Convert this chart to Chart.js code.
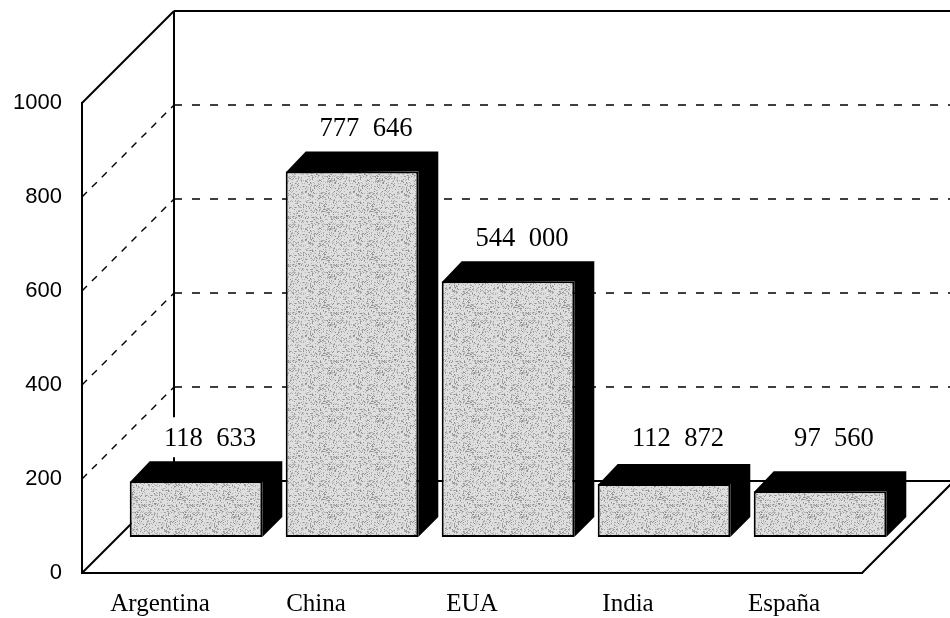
<!DOCTYPE html>
<html>
<head>
<meta charset="utf-8">
<title>Producción</title>
<script src="https://cdn.jsdelivr.net/npm/chart.js@4/dist/chart.umd.min.js"></script>
<style>
  html, body { margin: 0; padding: 0; background: #fff; }
  canvas { display: block; }
</style>
</head>
<body>
<canvas id="chart" width="950" height="618"></canvas>
<script>
// Countries and their output (units); the value axis is read in thousands.
const categories = ['Argentina', 'China', 'EUA', 'India', 'España'];
const production = [118633, 777646, 544000, 112872, 97560];
const yTicks = [0, 200, 400, 600, 800, 1000];

// 3D look: depth of the floor/walls, where the bars stand in it, and bar thickness.
const WALL_DEPTH = 92;
const BAR_SHIFT = 36;
const BAR_DEPTH = 20;

// "118633" -> "118  633"
function formatValue(v) {
  const s = String(v);
  return s.length > 3 ? s.slice(0, -3) + '  ' + s.slice(-3) : s;
}

// Stippled grey fill for the bar fronts (deterministic hash, no randomness).
function makeStipple() {
  const c = document.createElement('canvas');
  c.width = 48; c.height = 48;
  const g = c.getContext('2d');
  g.fillStyle = '#dedede';
  g.fillRect(0, 0, 48, 48);
  for (let i = 0; i < 48; i++) {
    for (let j = 0; j < 48; j++) {
      const h = Math.sin(i * 12.9898 + j * 78.233) * 43758.5453;
      const f = h - Math.floor(h);
      if (f < 0.28) {
        g.fillStyle = f < 0.08 ? '#909090' : '#b0b0b0';
        g.fillRect(i, j, 1, 1);
      }
    }
  }
  return g.createPattern(c, 'repeat');
}

function line(ctx, x1, y1, x2, y2) {
  ctx.beginPath();
  ctx.moveTo(x1, y1);
  ctx.lineTo(x2, y2);
  ctx.stroke();
}

const box3d = {
  id: 'box3d',
  beforeDatasetsDraw(chart) {
    const { ctx, chartArea: a, scales } = chart;
    const y = scales.y;
    const D = WALL_DEPTH;
    ctx.save();
    ctx.strokeStyle = '#000';
    ctx.lineCap = 'butt';

    // dashed gridlines on the back wall and the left wall
    ctx.lineWidth = 1.4;
    yTicks.forEach(v => {
      if (v === yTicks[0] || v === yTicks[yTicks.length - 1]) return;
      const py = y.getPixelForValue(v);
      ctx.setLineDash([8, 10]);
      line(ctx, a.left + D, py - D, a.right + D, py - D);
      ctx.setLineDash([7, 7]);
      line(ctx, a.left, py, a.left + D, py - D);
    });
    ctx.setLineDash([]);

    // solid frame: back wall, left wall and floor edges
    ctx.lineWidth = 2;
    const top = y.getPixelForValue(yTicks[yTicks.length - 1]);
    const bot = y.getPixelForValue(0);
    line(ctx, a.left, top, a.left + D, top - D);
    line(ctx, a.left + D, top - D, a.right + D, top - D);
    line(ctx, a.left + D, top - D, a.left + D, bot - D);
    line(ctx, a.left, bot, a.left + D, bot - D);
    line(ctx, a.left + D, bot - D, a.right + D, bot - D);
    line(ctx, a.right, bot, a.right + D, bot - D);

    // bars stand partway into the floor; draw their dark top/side first
    ctx.restore();
    ctx.save();
    ctx.translate(BAR_SHIFT, -BAR_SHIFT);
    const d = BAR_DEPTH;
    ctx.fillStyle = '#000';
    ctx.lineJoin = 'round';
    chart.getDatasetMeta(0).data.forEach(el => {
      const p = el.getProps(['x', 'y', 'base', 'width'], true);
      const L = p.x - p.width / 2, R = p.x + p.width / 2, T = p.y, B = p.base;
      ctx.beginPath();
      ctx.moveTo(L, T + 1);
      ctx.lineTo(L + d, T - d);
      ctx.lineTo(R + d, T - d);
      ctx.lineTo(R + d, B - d);
      ctx.lineTo(R, B);
      ctx.lineTo(R, T);
      ctx.closePath();
      ctx.fill();
    });
  },
  afterDatasetsDraw(chart) {
    const { ctx } = chart;
    ctx.restore();

    // value labels above each bar
    ctx.save();
    const sx = 0.95;
    ctx.font = '28px "Liberation Serif", "Times New Roman", serif';
    ctx.textAlign = 'center';
    ctx.textBaseline = 'middle';
    chart.getDatasetMeta(0).data.forEach((el, i) => {
      const p = el.getProps(['x', 'y'], true);
      const cx = p.x + BAR_SHIFT + 14;
      const cy = Math.min(p.y - BAR_SHIFT - BAR_DEPTH - 24, 438);
      const txt = formatValue(production[i]);
      const w = ctx.measureText(txt).width * sx;
      ctx.fillStyle = '#fff';
      ctx.fillRect(cx - w / 2 - 4, cy - 20, w + 8, 40);
      ctx.save();
      ctx.scale(sx, 1);
      ctx.fillStyle = '#000';
      ctx.fillText(txt, cx / sx, cy + 1);
      ctx.restore();
    });
    ctx.restore();
  }
};

new Chart(document.getElementById('chart'), {
  type: 'bar',
  data: {
    labels: categories,
    datasets: [{
      data: production.map(v => v / 1000),
      backgroundColor: makeStipple(),
      borderColor: '#000',
      borderWidth: 2,
      borderSkipped: false,
      barPercentage: 0.85,
      categoryPercentage: 1
    }]
  },
  options: {
    responsive: false,
    animation: false,
    devicePixelRatio: 1,
    layout: { padding: { top: 103, right: 88, left: 0, bottom: 0 } },
    plugins: { legend: { display: false }, tooltip: { enabled: false } },
    scales: {
      x: {
        grid: { display: false, drawTicks: false },
        border: { display: true, color: '#000', width: 2 },
        ticks: {
          color: '#000',
          padding: 16,
          font: { family: '"Liberation Serif", "Times New Roman", serif', size: 25 }
        },
        afterFit(s) { s.height = 45; }
      },
      y: {
        min: 0,
        max: 1000,
        afterBuildTicks(s) { s.ticks = yTicks.map(v => ({ value: v })); },
        grid: { display: false, drawTicks: false },
        border: { display: true, color: '#000', width: 2 },
        ticks: {
          color: '#000',
          padding: 20,
          callback: v => String(v),
          font: { family: '"Liberation Sans", Arial, sans-serif', size: 22 }
        },
        afterFit(s) { s.width = 82; }
      }
    }
  },
  plugins: [box3d]
});
</script>
</body>
</html>
